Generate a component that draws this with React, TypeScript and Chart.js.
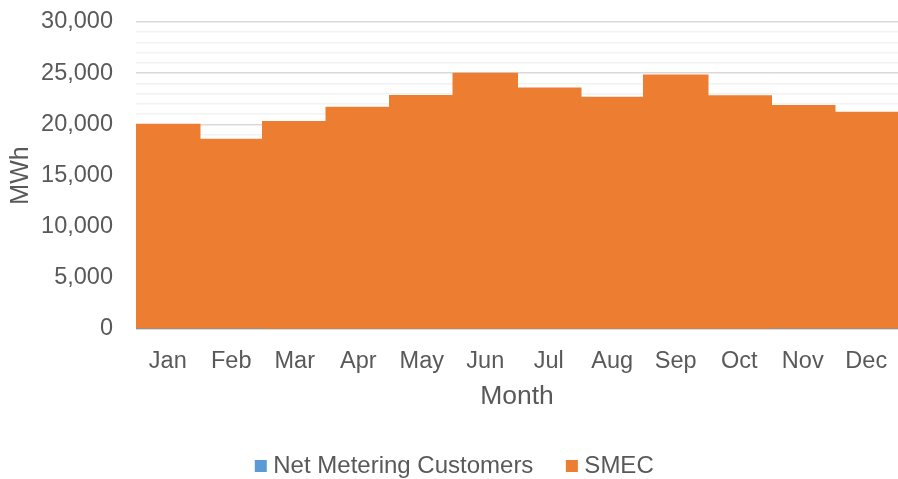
import React, { useEffect, useRef } from "react";
import { Chart, registerables } from "chart.js";

Chart.register(...registerables);

const months = ["Jan", "Feb", "Mar", "Apr", "May", "Jun", "Jul", "Aug", "Sep", "Oct", "Nov", "Dec"];
const netMetering = [30, 35, 45, 50, 55, 55, 55, 50, 45, 40, 30, 25];
const smec = [19940, 18465, 20195, 21560, 22725, 24885, 23445, 22540, 24725, 22710, 21770, 21095];
const yMax = 30000;
const yStep = 1000;
const yLabelStep = 5000;

const FONT = "'Liberation Sans', Arial, sans-serif";
const TEXT = "#595959";

const legendShift = {
  id: "legendShift",
  afterLayout(chart: any) {
    if (chart.legend) chart.legend.left += 16;
  },
};

export default function App() {
  const ref = useRef<HTMLCanvasElement>(null);
  useEffect(() => {
    const ctx = ref.current!;
    const chart = new Chart(ctx, {
      type: "bar",
      data: {
        labels: months,
        datasets: [
          { label: "Net Metering Customers", data: netMetering, backgroundColor: "#5B9BD5", borderWidth: 0, inflateAmount: 0 },
          { label: "SMEC", data: smec, backgroundColor: "#ED7D31", borderWidth: 0, inflateAmount: 1 },
        ],
      },
      plugins: [legendShift],
      options: {
        animation: false,
        responsive: false,
        maintainAspectRatio: false,
        layout: { padding: { left: 0, right: 0, top: 22, bottom: -9 } },
        datasets: { bar: { categoryPercentage: 1, barPercentage: 1 } },
        plugins: {
          tooltip: { enabled: false },
          legend: {
            position: "bottom",
            labels: {
              color: TEXT,
              font: { family: FONT, size: 24 },
              usePointStyle: true,
              pointStyle: "rect",
              boxWidth: 1,
              boxHeight: 12,
              padding: 38,
            },
          },
        },
        scales: {
          x: {
            stacked: true,
            grid: { display: false },
            border: { color: "#d9d9d9" },
            ticks: { color: TEXT, font: { family: FONT, size: 23.5 }, padding: 10, maxRotation: 0 },
            title: { display: true, text: "Month", color: TEXT, font: { family: FONT, size: 26.5 }, padding: { top: -4, bottom: 3 } },
          },
          y: {
            stacked: true,
            min: 0,
            max: yMax,
            afterFit: (s: any) => { s.width = 136; s.paddingTop = 0; s.paddingBottom = 0; },
            border: { display: false },
            grid: {
              color: (c: any) => (c.tick && c.tick.value % yLabelStep === 0 ? "#d9d9d9" : "#f2f2f2"),
              lineWidth: 1.5,
              drawTicks: false,
            },
            ticks: {
              stepSize: yStep,
              autoSkip: false,
              color: TEXT,
              font: { family: FONT, size: 23.5 },
              padding: 23,
              callback: (v: any) => (Number(v) % yLabelStep === 0 ? Number(v).toLocaleString("en-US") : ""),
            },
            title: { display: true, text: "MWh", color: TEXT, font: { family: FONT, size: 25 }, padding: { top: 6, bottom: 0 } },
          },
        },
      },
    });
    return () => chart.destroy();
  }, []);
  return (
    <div style={{ position: "fixed", left: 0, top: 0, width: 898, height: 479, background: "#fff" }}>
      <canvas ref={ref} width={898} height={479} />
    </div>
  );
}
